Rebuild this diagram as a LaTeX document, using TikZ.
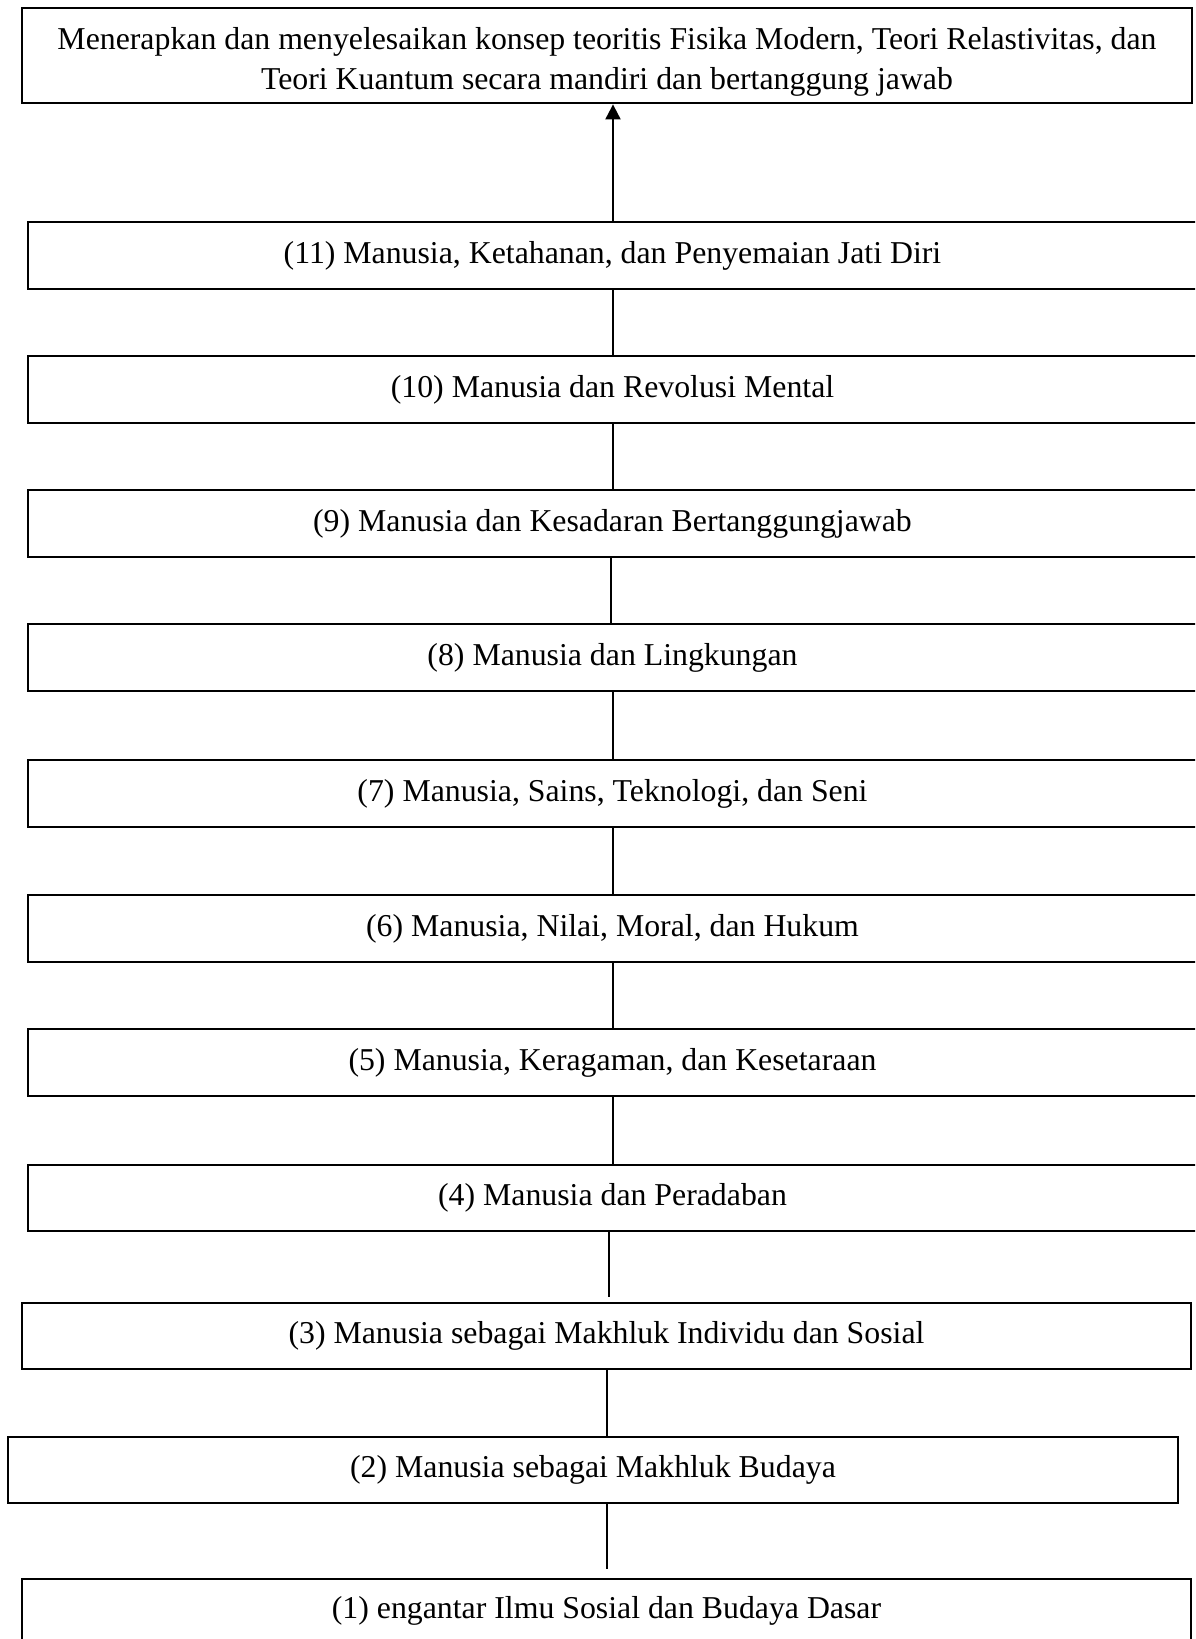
\documentclass[tikz,border=0pt]{standalone}
\usepackage{fontspec}
\setmainfont{Liberation Serif}
\usetikzlibrary{arrows.meta}
\begin{document}
\begin{tikzpicture}[x=0.5pt,y=-0.5pt,
  box/.style={draw=black,line width=1.4pt,rectangle,inner sep=0pt,
    font=\fontsize{15.9}{20}\selectfont,align=center},
  conn/.style={draw=black,line width=1pt},
  arr/.style={conn,-{Triangle[length=7.5pt,width=7.5pt]}}]
\clip (0,0) rectangle (1195,1639);
\fill[white] (0,0) rectangle (1195,1639);
\node[box,minimum width=585pt,minimum height=47.5pt] (top) at (607,55.5)
  {\rule{0pt}{17pt}Menerapkan dan menyelesaikan konsep teoritis Fisika Modern, Teori Relastivitas, dan\\Teori Kuantum secara mandiri dan bertanggung jawab};
\node[box,minimum width=584.5pt,minimum height=33.5pt] (b11) at (612.5,255.5) {(11) Manusia, Ketahanan, dan Penyemaian Jati Diri};
\node[box,minimum width=584.5pt,minimum height=33.5pt] (b10) at (612.5,389.5) {(10) Manusia dan Revolusi Mental};
\node[box,minimum width=584.5pt,minimum height=33.5pt] (b9) at (612.5,523.5) {(9) Manusia dan Kesadaran Bertanggungjawab};
\node[box,minimum width=584.5pt,minimum height=33.5pt] (b8) at (612.5,657.5) {(8) Manusia dan Lingkungan};
\node[box,minimum width=584.5pt,minimum height=33.5pt] (b7) at (612.5,793.5) {(7) Manusia, Sains, Teknologi, dan Seni};
\node[box,minimum width=584.5pt,minimum height=33.5pt] (b6) at (612.5,928.5) {(6) Manusia, Nilai, Moral, dan Hukum};
\node[box,minimum width=584.5pt,minimum height=33.5pt] (b5) at (612.5,1062.5) {(5) Manusia, Keragaman, dan Kesetaraan};
\node[box,minimum width=584.5pt,minimum height=33pt] (b4) at (612.5,1198) {(4) Manusia dan Peradaban};
\node[box,minimum width=584.5pt,minimum height=33pt] (b3) at (606.5,1336) {(3) Manusia sebagai Makhluk Individu dan Sosial};
\node[box,minimum width=585pt,minimum height=33pt] (b2) at (593,1470) {(2) Manusia sebagai Makhluk Budaya};
\node[box,minimum width=584.5pt,minimum height=31.5pt] (b1) at (606.5,1610.5) {(1) engantar Ilmu Sosial dan Budaya Dasar};
% connector x positions
\coordinate (xa) at (613,0);
\coordinate (xb) at (611,0);
\coordinate (xc) at (609,0);
\coordinate (xd) at (607,0);
\draw[arr] (b11.north -| xa) -- (top.south -| xa);
\draw[conn] (b11.south -| xa) -- (b10.north -| xa);
\draw[conn] (b10.south -| xa) -- (b9.north -| xa);
\draw[conn] (b9.south -| xb) -- (b8.north -| xb);
\draw[conn] (b8.south -| xa) -- (b7.north -| xa);
\draw[conn] (b7.south -| xa) -- (b6.north -| xa);
\draw[conn] (b6.south -| xa) -- (b5.north -| xa);
\draw[conn] (b5.south -| xa) -- (b4.north -| xa);
\draw[conn,shorten >=2.5pt] (b4.south -| xc) -- (b3.north -| xc);
\draw[conn] (b3.south -| xd) -- (b2.north -| xd);
\draw[conn,shorten >=4.5pt] (b2.south -| xd) -- (b1.north -| xd);
\end{tikzpicture}
\end{document}
